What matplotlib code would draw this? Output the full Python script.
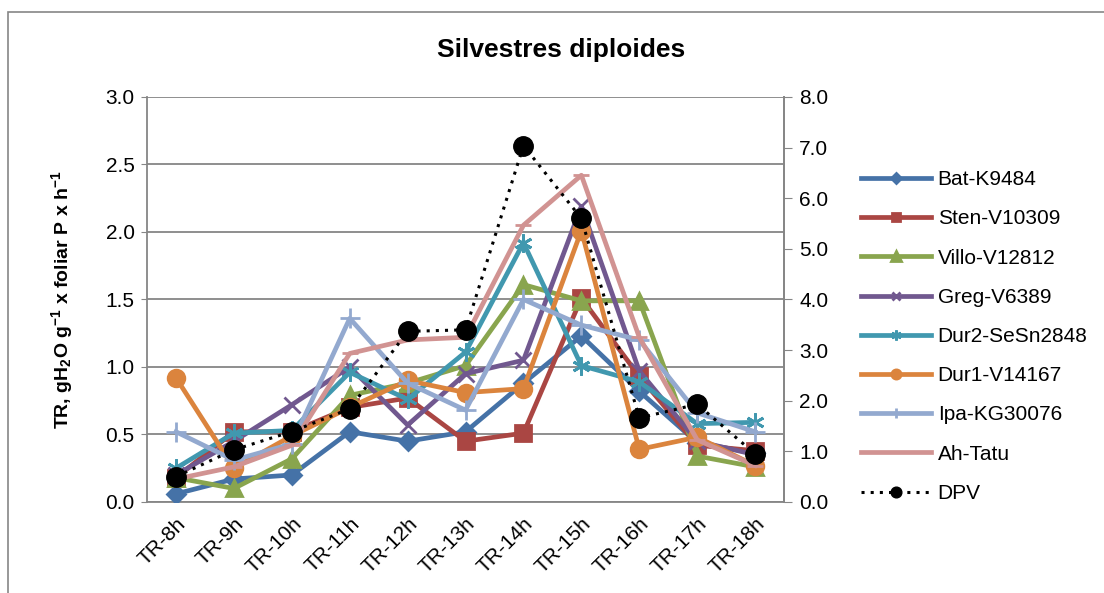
import numpy as np
import matplotlib.pyplot as plt
from matplotlib.patches import Rectangle

plt.rcParams['font.family'] = ['Liberation Sans', 'DejaVu Sans']
plt.rcParams['mathtext.fontset'] = 'custom'
plt.rcParams['mathtext.rm'] = 'Liberation Sans'
plt.rcParams['mathtext.bf'] = 'Liberation Sans:bold'
plt.rcParams['mathtext.default'] = 'bf'

# Categories (hours)
hours = ["TR-8h", "TR-9h", "TR-10h", "TR-11h", "TR-12h", "TR-13h",
         "TR-14h", "TR-15h", "TR-16h", "TR-17h", "TR-18h"]

# Transpiration rate per genotype (left axis)
bat_k9484 = [0.06, 0.17, 0.20, 0.52, 0.45, 0.52, 0.88, 1.23, 0.82, 0.44, 0.36]
sten_v10309 = [0.18, 0.52, 0.52, 0.70, 0.77, 0.45, 0.51, 1.51, 0.93, 0.42, 0.38]
villo_v12812 = [0.18, 0.10, 0.32, 0.79, 0.88, 1.01, 1.61, 1.49, 1.49, 0.34, 0.26]
greg_v6389 = [0.20, 0.45, 0.72, 1.00, 0.57, 0.95, 1.05, 2.19, 0.97, 0.45, 0.35]
dur2_sesn2848 = [0.25, 0.51, 0.53, 0.96, 0.76, 1.11, 1.92, 1.01, 0.89, 0.58, 0.59]
dur1_v14167 = [0.92, 0.25, 0.49, 0.70, 0.90, 0.81, 0.84, 2.01, 0.39, 0.48, 0.27]
ipa_kg30076 = [0.52, 0.31, 0.43, 1.36, 0.88, 0.68, 1.50, 1.31, 1.20, 0.66, 0.52]
ah_tatu = [0.17, 0.26, 0.42, 1.10, 1.20, 1.22, 2.05, 2.42, 1.22, 0.46, 0.27]

# Vapour pressure deficit (right axis)
dpv = [0.50, 1.03, 1.39, 1.84, 3.37, 3.40, 7.04, 5.60, 1.66, 1.93, 0.95]

series = [
    ("Bat-K9484", bat_k9484, "#4572A7", "D", 9),
    ("Sten-V10309", sten_v10309, "#AA4643", "s", 11),
    ("Villo-V12812", villo_v12812, "#89A54E", "^", 12),
    ("Greg-V6389", greg_v6389, "#71588F", "x", 11),
    ("Dur2-SeSn2848", dur2_sesn2848, "#4198AF", (6, 2, 0), 13),
    ("Dur1-V14167", dur1_v14167, "#DB843D", "o", 12),
    ("Ipa-KG30076", ipa_kg30076, "#93A9CF", "+", 14),
    ("Ah-Tatu", ah_tatu, "#D19392", "_", 12),
]

fs = 15

fig = plt.figure(figsize=(11.04, 5.93), dpi=100)
fig.patches.append(Rectangle((0.007, -0.05), 1.1, 1.03, transform=fig.transFigure,
                             fill=False, edgecolor="#868686", lw=1.2))
ax = fig.add_axes([0.1332, 0.1535, 0.577, 0.683])
x = np.arange(len(hours))

handles = []
for name, vals, col, mk, ms in series:
    h, = ax.plot(x, vals, color=col, lw=3.4, marker=mk, markersize=ms,
                 markeredgewidth=2, markeredgecolor=col, markerfacecolor=col,
                 label=name, zorder=3)
    handles.append(h)

ax.set_xlim(-0.5, len(hours) - 0.5)
ax.set_ylim(0, 3.0)
ax.set_yticks(np.arange(0, 3.01, 0.5))
ax.set_yticklabels([f"{v:.1f}" for v in np.arange(0, 3.01, 0.5)])
ax.set_xticks(x)
ax.set_xticklabels(hours, rotation=45, ha="right", rotation_mode="anchor")
ax.grid(axis="y", color="#868686", lw=1.3)
ax.set_axisbelow(True)
ax.tick_params(axis="x", length=0, labelsize=fs, pad=9)
ax.tick_params(axis="y", length=4, color="#868686", labelsize=fs, pad=5)
ax.spines["top"].set_visible(False)
for s in ["left", "bottom", "right"]:
    ax.spines[s].set_color("#868686")
    ax.spines[s].set_linewidth(1.3)
ax.set_ylabel("TR, gH$_{2}$O g$^{-1}$ x foliar P x h$^{-1}$", fontsize=14,
              fontweight="bold", labelpad=22)

ax2 = ax.twinx()
h, = ax2.plot(x, dpv, color="black", lw=2.2, ls=(0, (1, 2)), marker="o",
              markersize=14, label="DPV", zorder=4)
handles.append(h)
ax2.set_ylim(0, 8.0)
ax2.set_yticks(np.arange(0, 8.01, 1.0))
ax2.set_yticklabels([f"{v:.1f}" for v in np.arange(0, 8.01, 1.0)])
ax2.tick_params(axis="y", length=6, color="#868686", labelsize=fs, pad=5)
for s in ["top", "left", "bottom"]:
    ax2.spines[s].set_visible(False)
ax2.spines["right"].set_color("#868686")
ax2.spines["right"].set_linewidth(1.3)

fig.text(0.508, 0.915, "Silvestres diploides", ha="center", va="center",
         fontsize=19, fontweight="bold")

fig.legend(handles=handles, loc="upper left", bbox_to_anchor=(0.772, 0.727),
           frameon=False, fontsize=fs, labelspacing=0.97, handlelength=3.4,
           handletextpad=0.3, markerscale=0.55, borderaxespad=0)

fig.savefig("out.png", dpi=100)
